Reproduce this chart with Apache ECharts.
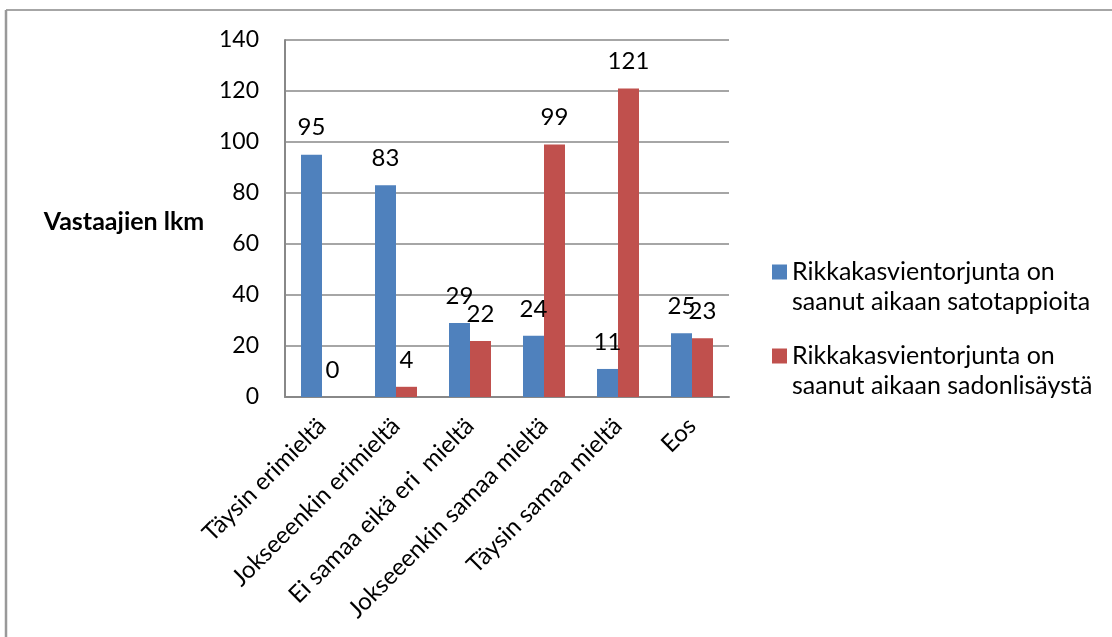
<!DOCTYPE html>
<html>
<head>
<meta charset="utf-8">
<script src="https://cdn.jsdelivr.net/npm/echarts@6/dist/echarts.min.js"></script>
<style>
  html, body { margin: 0; padding: 0; background: #fff; }
  #chart { width: 1112px; height: 637px; }
</style>
</head>
<body>
<div id="chart"></div>
<script>
// Survey answers per opinion category
const categories = [
  'Täysin erimieltä',
  'Jokseeenkin erimieltä',
  'Ei samaa eikä eri  mieltä',
  'Jokseeenkin samaa mieltä',
  'Täysin samaa mieltä',
  'Eos'
];
const seriesNames = [
  'Rikkakasvientorjunta on\nsaanut aikaan satotappioita',
  'Rikkakasvientorjunta on\nsaanut aikaan sadonlisäystä'
];
const satotappioita = [95, 83, 29, 24, 11, 25];
const sadonlisaysta = [0, 4, 22, 99, 121, 23];
const yTicks = { min: 0, max: 140, interval: 20 };
const yTitle = 'Vastaajien lkm';

const FONT = 'Lato, "Open Sans", sans-serif';
const gridColor = '#888888';

const chart = echarts.init(document.getElementById('chart'), null, { renderer: 'canvas' });

const labelStyle = {
  show: true,
  position: 'top',
  distance: 15,
  color: '#000',
  fontFamily: FONT,
  fontSize: 24
};

chart.setOption({
  animation: false,
  backgroundColor: '#ffffff',
  textStyle: { fontFamily: FONT },
  grid: { left: 285, top: 40, width: 444, height: 357, containLabel: false },
  graphic: [
    // outer frame: top and left edges
    { type: 'line', shape: { x1: 6, y1: 10, x2: 1112, y2: 10 },
      style: { stroke: '#888888', lineWidth: 1.5 } },
    { type: 'line', shape: { x1: 6, y1: 10, x2: 6, y2: 637 },
      style: { stroke: '#999999', lineWidth: 2.5 } },
    // vertical-axis title
    { type: 'text', x: 124, y: 222,
      style: { text: yTitle, fontFamily: FONT, fontWeight: 'bold', fontSize: 25,
               fill: '#000', align: 'center', verticalAlign: 'middle' } }
  ],
  legend: {
    orient: 'vertical',
    left: 767,
    top: 222,
    itemWidth: 15,
    itemHeight: 15,
    itemGap: -6,
    icon: 'rect',
    data: seriesNames,
    // a blank leading line keeps the colour swatch level with the first text line
    formatter: name => '\n' + name,
    textStyle: {
      fontFamily: FONT,
      fontSize: 25,
      lineHeight: 30,
      color: '#000'
    }
  },
  xAxis: {
    type: 'category',
    data: categories,
    axisLine: { show: true, lineStyle: { color: gridColor, width: 2 } },
    axisTick: { show: false },
    axisLabel: {
      rotate: 45,
      margin: 25,
      interval: 0,
      color: '#000',
      fontFamily: FONT,
      fontSize: 24
    }
  },
  yAxis: {
    type: 'value',
    min: yTicks.min,
    max: yTicks.max,
    interval: yTicks.interval,
    axisLine: { show: true, lineStyle: { color: gridColor, width: 2 } },
    axisTick: { show: false },
    splitLine: { show: true, lineStyle: { color: gridColor, width: 1.5 } },
    axisLabel: {
      margin: 26,
      color: '#000',
      fontFamily: FONT,
      fontSize: 23
    }
  },
  series: [
    {
      name: seriesNames[0],
      type: 'bar',
      data: satotappioita,
      barWidth: 21,
      barGap: '0%',
      itemStyle: { color: '#4F81BD' },
      label: labelStyle
    },
    {
      name: seriesNames[1],
      type: 'bar',
      data: sadonlisaysta,
      barWidth: 21,
      barGap: '0%',
      itemStyle: { color: '#C0504D' },
      label: labelStyle
    }
  ]
});
</script>
</body>
</html>
